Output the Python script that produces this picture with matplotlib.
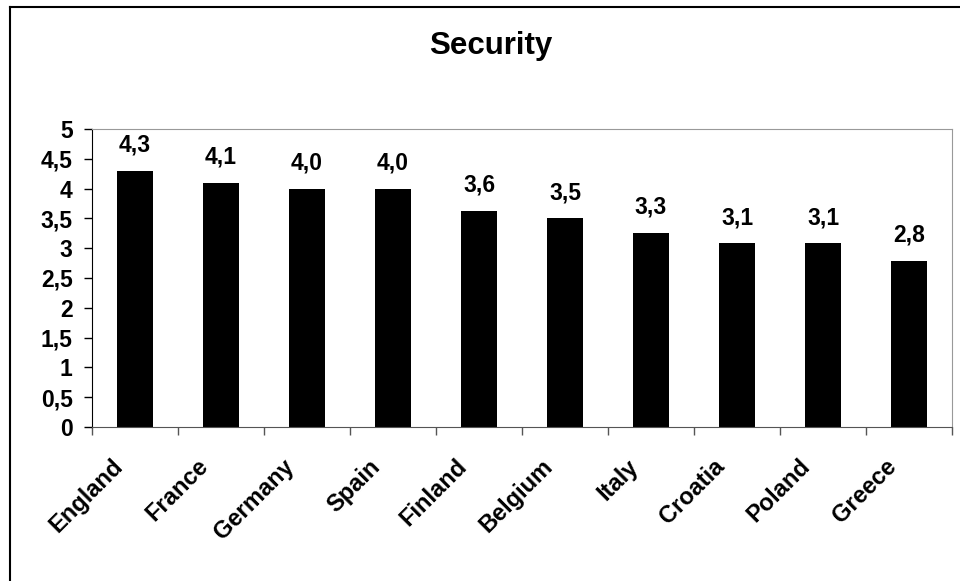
import matplotlib.pyplot as plt
import matplotlib.transforms as mtransforms
from matplotlib.lines import Line2D
import numpy as np

countries = ['England', 'France', 'Germany', 'Spain', 'Finland',
             'Belgium', 'Italy', 'Croatia', 'Poland', 'Greece']
scores = [4.30, 4.10, 4.00, 4.00, 3.63, 3.50, 3.26, 3.09, 3.09, 2.79]
yticks = [0, 0.5, 1, 1.5, 2, 2.5, 3, 3.5, 4, 4.5, 5]

plt.rcParams['font.family'] = ['Liberation Sans', 'DejaVu Sans']
plt.rcParams['font.weight'] = 'bold'

fig = plt.figure(figsize=(9.6, 5.81), dpi=100)
ax = fig.add_axes([92 / 960, 1 - 427 / 581, 860 / 960, 298 / 581])

x = np.arange(len(countries))
ax.bar(x, scores, width=0.42, color='black')

# data labels (comma decimal)
for xi, v in zip(x, scores):
    ax.annotate(f'{v:.1f}'.replace('.', ','), (xi, v), xytext=(0, 13.5),
                textcoords='offset points', ha='center', va='baseline',
                fontsize=16.5, fontweight='bold')

ax.set_xlim(-0.5, len(countries) - 0.5)
ax.set_ylim(0, 5)
ax.set_yticks(yticks)
ax.set_yticklabels([str(t).replace('.', ',').replace(',0', '') for t in yticks],
                   fontsize=16.5, fontweight='bold')
ax.tick_params(axis='y', length=6, width=1, pad=8, color='black')

# categories at centres, ticks at boundaries
ax.set_xticks(x)
ax.set_xticklabels(countries, rotation=45, ha='right', fontsize=17, fontweight='bold')
ax.set_xticks(np.arange(-0.5, len(countries)), minor=True)
ax.tick_params(axis='x', which='major', length=0, pad=20)
ax.tick_params(axis='x', which='minor', length=6, width=1, color='#555555')
shift = mtransforms.ScaledTranslation(-8 / 100, 0, fig.dpi_scale_trans)
for lbl in ax.get_xticklabels():
    lbl.set_transform(lbl.get_transform() + shift)

ax.spines['left'].set_color('black')
ax.spines['bottom'].set_color('#555555')
ax.spines['top'].set_color('#999999')
ax.spines['right'].set_color('#999999')

fig.text(491 / 960, 1 - 46 / 581, 'Security', ha='center', va='center',
         fontsize=22.5, fontweight='bold')

# outer chart border (only top and left visible)
fig.add_artist(Line2D([10 / 960, 1], [1 - 7 / 581, 1 - 7 / 581], color='black', lw=1.5))
fig.add_artist(Line2D([10 / 960, 10 / 960], [0, 1 - 7 / 581], color='black', lw=1.5))

fig.savefig('out.png', dpi=100, facecolor='white')
